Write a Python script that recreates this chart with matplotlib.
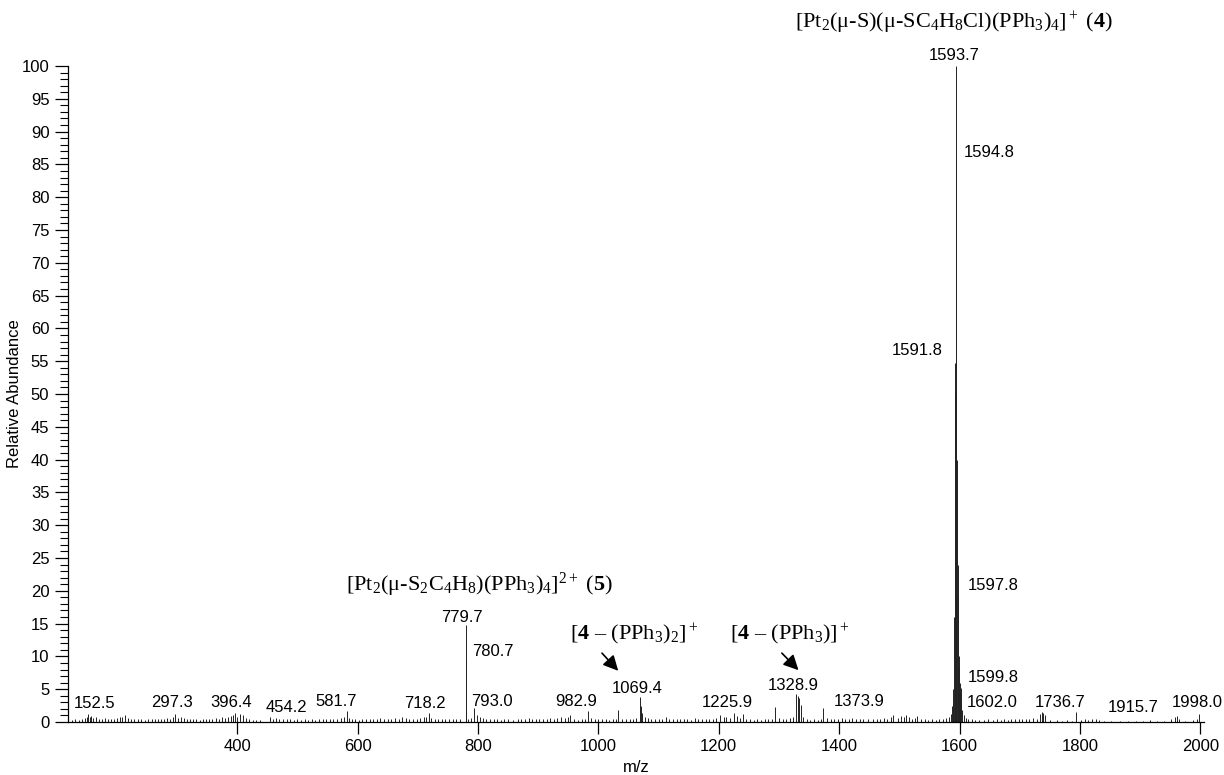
import matplotlib
matplotlib.use("Agg")
import matplotlib.pyplot as plt
import numpy as np

plt.rcParams['font.family'] = ['Liberation Sans', 'DejaVu Sans']
plt.rcParams['mathtext.fontset'] = 'custom'
plt.rcParams['mathtext.rm'] = 'Liberation Serif'
plt.rcParams['mathtext.it'] = 'Liberation Serif:italic'
plt.rcParams['mathtext.bf'] = 'Liberation Serif:bold'

# labelled peaks (m/z, relative abundance %)
label_mz = [152.5, 297.3, 396.4, 454.2, 581.7, 718.2, 779.7, 780.7, 793.0,
            982.9, 1069.4, 1225.9, 1328.9, 1373.9, 1591.8, 1593.7, 1594.8,
            1597.8, 1599.8, 1602.0, 1736.7, 1915.7, 1998.0]
label_int = [1.2, 1.2, 1.3, 0.8, 1.7, 1.3, 14.8, 9.4, 2.1,
             1.7, 3.8, 1.4, 4.2, 2.1, 54.7, 100.0, 85.6,
             19.4, 8.4, 5.2, 1.5, 0.3, 1.2]

# unlabelled isotope lines inside the main cluster
iso_mz = [1589.8, 1590.8, 1592.8, 1595.8, 1596.8, 1598.8, 1600.8, 1601.0]
iso_int = [5.0, 16.0, 50.0, 40.0, 24.0, 10.0, 6.0, 4.5]

# minor peaks / baseline noise
noise_mz = [126, 131, 137, 142, 147, 150, 155, 158, 161, 166, 170, 175, 181, 186,
            190, 196, 201, 205, 209, 214, 219, 224, 229, 235, 241, 247, 252, 258,
            263, 268, 274, 279, 284, 289, 293, 302, 307, 311, 316, 321, 327, 332,
            338, 343, 349, 354, 359, 365, 370, 375, 380, 385, 390, 393, 400, 405,
            410, 415, 420, 426, 432, 438, 460, 465, 470, 476, 482, 488, 494, 500,
            506, 512, 518, 524, 530, 536, 542, 548, 554, 560, 566, 572, 577, 586,
            590, 596, 602, 608, 614, 620, 626, 632, 638, 644, 650, 656, 662, 668,
            674, 680, 686, 692, 698, 704, 710, 714, 722, 728, 734, 740, 746, 752,
            758, 764, 770, 784, 788, 798, 803, 808, 814, 820, 826, 832, 838, 844,
            850, 858, 866, 872, 878, 884, 890, 896, 902, 908, 914, 920, 926, 932,
            938, 944, 950, 953, 960, 966, 972, 978, 988, 994, 1000, 1006, 1012,
            1018, 1024, 1029, 1033, 1040, 1046, 1052, 1058, 1063, 1071, 1073, 1077,
            1082, 1088, 1094, 1100, 1106, 1112, 1118, 1124, 1130, 1136, 1142, 1148,
            1154, 1160, 1166, 1172, 1178, 1184, 1190, 1196, 1202, 1208, 1212, 1218,
            1231, 1236, 1240, 1246, 1252, 1258, 1264, 1270, 1276, 1282, 1288, 1294,
            1300, 1306, 1312, 1318, 1324, 1331, 1333, 1336, 1340, 1346, 1352, 1358,
            1364, 1370, 1380, 1386, 1392, 1398, 1404, 1410, 1416, 1422, 1428, 1434,
            1440, 1448, 1456, 1462, 1468, 1474, 1480, 1486, 1490, 1498, 1503, 1507,
            1511, 1516, 1521, 1526, 1530, 1536, 1542, 1548, 1554, 1560, 1566, 1572,
            1578, 1582, 1585, 1587, 1588.5, 1604, 1607, 1610, 1614, 1620, 1626,
            1632, 1640, 1648, 1656, 1662, 1668, 1674, 1680, 1686, 1692, 1698, 1704,
            1710, 1716, 1722, 1728, 1734, 1739, 1742, 1750, 1762, 1770, 1778, 1786,
            1793, 1802, 1808, 1814, 1820, 1826, 1832, 1840, 1852, 1866, 1880, 1893,
            1905, 1928, 1940, 1952, 1958, 1961, 1965, 1975, 1988, 1994]
noise_int = [0.3, 0.4, 0.3, 0.5, 0.6, 0.8, 0.7, 0.9, 0.6, 0.8, 0.5, 0.4, 0.6, 0.5,
             0.4, 0.5, 0.6, 0.7, 0.8, 1.0, 0.6, 0.5, 0.4, 0.5, 0.4, 0.3, 0.5, 0.4,
             0.4, 0.5, 0.4, 0.5, 0.6, 0.5, 0.7, 0.6, 0.8, 0.6, 0.5, 0.4, 0.5, 0.4,
             0.3, 0.5, 0.4, 0.5, 0.4, 0.6, 0.5, 0.7, 0.6, 0.8, 0.9, 1.1, 0.7, 1.2,
             1.0, 0.6, 0.4, 0.3, 0.3, 0.3, 0.5, 0.6, 0.5, 0.4, 0.4, 0.5, 0.3, 0.4,
             0.3, 0.4, 0.3, 0.4, 0.3, 0.4, 0.5, 0.4, 0.5, 0.4, 0.5, 0.6, 0.7, 0.6,
             0.5, 0.4, 0.3, 0.4, 0.5, 0.4, 0.5, 0.4, 0.6, 0.5, 0.4, 0.5, 0.6, 0.5,
             0.7, 0.6, 0.5, 0.4, 0.5, 0.6, 0.7, 0.8, 0.6, 0.5, 0.4, 0.5, 0.4, 0.5,
             0.4, 0.5, 0.4, 0.5, 0.6, 1.0, 0.8, 0.6, 0.5, 0.4, 0.5, 0.4, 0.3, 0.4,
             0.5, 0.3, 0.4, 0.5, 0.4, 0.6, 0.5, 0.4, 0.5, 0.4, 0.5, 0.6, 0.5, 0.6,
             0.7, 0.6, 0.8, 1.0, 0.4, 0.3, 0.4, 0.5, 0.6, 0.5, 0.4, 0.5, 0.4,
             0.3, 0.4, 0.5, 1.9, 0.5, 0.4, 0.5, 0.4, 0.6, 2.4, 1.3, 0.8,
             0.6, 0.5, 0.4, 0.5, 0.4, 0.8, 0.5, 0.4, 0.5, 0.4, 0.5, 0.4,
             0.3, 0.6, 0.4, 0.5, 0.4, 0.5, 0.4, 0.6, 1.0, 0.7, 0.8, 0.6,
             0.9, 0.6, 1.2, 0.5, 0.4, 0.3, 0.4, 0.3, 0.4, 0.5, 0.4, 2.3,
             0.6, 0.5, 0.4, 0.6, 0.8, 4.0, 3.6, 2.6, 0.8, 0.5, 0.3, 0.4,
             0.3, 0.5, 0.6, 0.4, 0.5, 0.4, 0.6, 0.5, 0.4, 0.6, 0.5, 0.4,
             0.5, 0.4, 0.5, 0.4, 0.5, 0.6, 0.5, 0.7, 1.1, 0.6, 0.9, 0.8,
             1.0, 0.7, 0.5, 0.6, 0.9, 0.5, 0.4, 0.3, 0.4, 0.3, 0.4, 0.5,
             0.6, 0.7, 1.2, 2.5, 3.0, 1.8, 1.0, 0.6, 0.5, 0.4, 0.3,
             0.3, 0.3, 0.4, 0.3, 0.4, 0.3, 0.4, 0.3, 0.4, 0.5, 0.4, 0.5,
             0.4, 0.5, 0.6, 0.5, 1.2, 1.4, 1.0, 0.3, 0.3, 0.2, 0.3, 0.2,
             1.5, 0.3, 0.4, 0.3, 0.4, 0.5, 0.3, 0.2, 0.2, 0.2, 0.2, 0.2,
             0.2, 0.2, 0.2, 0.4, 0.8, 0.9, 0.5, 0.2, 0.3, 0.5]

# label placement: offset in pixels from the peak top, and alignment
label_style = {
    152.5: (6, 6, 'center'), 297.3: (-3, 7, 'center'), 396.4: (-4, 6, 'center'),
    454.2: (17, 5, 'center'), 581.7: (-10, 5, 'center'), 718.2: (-4, 5, 'center'),
    779.7: (-4, 3, 'center'), 780.7: (6, 4, 'left'), 793.0: (-3, 2, 'left'),
    982.9: (-12, 5, 'center'), 1069.4: (-3, 4, 'center'), 1225.9: (-7, 6, 'center'),
    1328.9: (-3, 4, 'center'), 1373.9: (10, 2, 'left'), 1591.8: (-12, 8, 'right'),
    1593.7: (-2, 6, 'center'), 1594.8: (7, 3, 'left'), 1597.8: (9, 5, 'left'),
    1599.8: (8, -15, 'left'), 1602.0: (6, -19, 'left'), 1736.7: (-7, 5, 'left'),
    1915.7: (-16, 8, 'center'), 1998.0: (-2, 7, 'center'),
}

fig = plt.figure(figsize=(12.24, 7.75), dpi=100)
ax = fig.add_axes([68 / 1224, 1 - 722 / 775, 1136 / 1224, 656 / 775])

ax.vlines(noise_mz, 0, noise_int, color='#222222', lw=0.7)
ax.vlines(iso_mz, 0, iso_int, color='#222222', lw=0.7)
ax.vlines(label_mz, 0, label_int, color='#222222', lw=0.7, clip_on=False)

for mz, h in zip(label_mz, label_int):
    dx, dy, ha = label_style[mz]
    ax.annotate(f"{mz:.1f}", xy=(mz, h), xytext=(dx, dy), textcoords='offset pixels',
                ha=ha, va='baseline', fontsize=12)

serif = dict(fontsize=16, family='Liberation Serif', ha='center', va='center')
ax.text(1591, 106.6, r"[Pt$_2$(μ-S)(μ-SC$_4$H$_8$Cl)(PPh$_3$)$_4$]$^+$ ($\mathbf{4}$)",
        clip_on=False, **serif)
ax.text(802, 20.9, r"[Pt$_2$(μ-S$_2$C$_4$H$_8$)(PPh$_3$)$_4$]$^{2+}$ ($\mathbf{5}$)", **serif)
ax.text(1060, 13.3, r"[$\mathbf{4}$ – (PPh$_3$)$_2$]$^+$", **serif)
ax.text(1318, 13.3, r"[$\mathbf{4}$ – (PPh$_3$)]$^+$", **serif)

arrow = dict(arrowstyle='-|>,head_length=0.9,head_width=0.45', color='black', lw=1.2,
             shrinkA=0, shrinkB=0)
ax.annotate('', xy=(1033, 7.8), xytext=(1006, 10.5), arrowprops=arrow)
ax.annotate('', xy=(1332.4, 7.9), xytext=(1304.8, 10.5), arrowprops=arrow)

ax.set_xlim(119, 2006)
ax.set_ylim(0, 100)
ax.spines['top'].set_visible(False)
ax.spines['right'].set_visible(False)
ax.spines['left'].set_bounds(0, 100)
for s in ('left', 'bottom'):
    ax.spines[s].set_linewidth(0.9)

ax.set_xticks(np.arange(400, 2001, 200))
ax.set_yticks(np.arange(0, 101, 5))
ax.set_yticks(np.arange(0, 101, 1), minor=True)
ax.tick_params(axis='x', which='major', direction='out', length=8.6, width=0.9,
               labelsize=12, pad=3.5)
ax.tick_params(axis='y', which='major', direction='out', length=9.4, width=0.9,
               labelsize=12, pad=4)
ax.tick_params(axis='y', which='minor', direction='out', length=5.8, width=0.8)

ax.set_xlabel("m/z", fontsize=12)
ax.xaxis.set_label_coords(0.5, -0.0686)
ax.xaxis.label.set_va('center')
ax.set_ylabel("Relative Abundance", fontsize=12)
ax.yaxis.set_label_coords(-0.047, 0.5)
ax.yaxis.label.set_va('center')

fig.savefig("out.png", dpi=100)
